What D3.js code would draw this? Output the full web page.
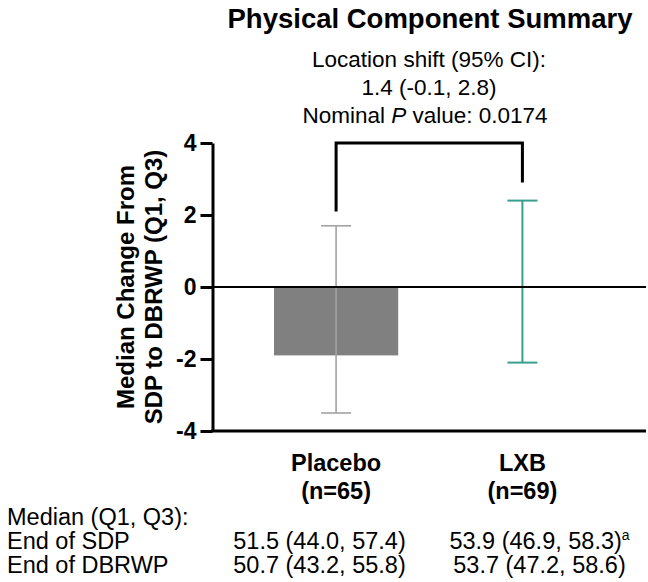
<!DOCTYPE html>
<html>
<head>
<meta charset="utf-8">
<script src="https://cdn.jsdelivr.net/npm/d3@7"></script>
<style>
  html, body { margin: 0; padding: 0; background: #fff; }
  svg { display: block; font-family: "Liberation Sans", Arial, Helvetica, sans-serif; }
</style>
</head>
<body>
<svg id="chart" width="648" height="582"></svg>
<script>
// Groups and their sample sizes
const groups = ["Placebo", "LXB"];
const groupN = ["(n=65)", "(n=69)"];

// Median change from SDP to DBRWP, with Q1 and Q3
const medians = [-1.9, 0];
const q1 = [-3.5, -2.1];
const q3 = [1.7, 2.4];

// Y axis ticks
const yTicks = [4, 2, 0, -2, -4];

// Comparison bracket: top level and the two leg ends
const bracketTop = 4;
const bracketEnds = [2.1, 2.9];

// Header text
const title = "Physical Component Summary";
const statLines = ["Location shift (95% CI):", "1.4 (-0.1, 2.8)"];
const pValue = "0.0174";

// Table below the chart
const tableHeader = "Median (Q1, Q3):";
const rowLabels = ["End of SDP", "End of DBRWP"];
const placeboCells = ["51.5 (44.0, 57.4)", "50.7 (43.2, 55.8)"];
const lxbCells = ["53.9 (46.9, 58.3)", "53.7 (47.2, 58.6)"];
const lxbNotes = ["a", ""];

const barColors = ["#808080", "#ffffff"];
const whiskerColors = ["#a3a3a3", "#3a9e8e"];

const svg = d3.select("#chart");

const plotLeft = 212.5, plotRight = 646, plotTop = 143, plotBottom = 431;

const x = d3.scaleBand()
  .domain(groups)
  .range([plotLeft, plotRight])
  .paddingInner(1 / 3)
  .paddingOuter(0.33);

const y = d3.scaleLinear()
  .domain([-4, 4])
  .range([plotBottom, plotTop]);

const cx = g => x(g) + x.bandwidth() / 2;

// Bars
svg.append("g")
  .selectAll("rect")
  .data(groups)
  .join("rect")
  .attr("x", d => x(d))
  .attr("width", x.bandwidth())
  .attr("y", (d, i) => y(Math.max(0, medians[i])))
  .attr("height", (d, i) => Math.abs(y(medians[i]) - y(0)))
  .attr("fill", (d, i) => barColors[i]);

// Whiskers (Q1 to Q3) with caps
const capHalf = 15;
const whiskers = svg.append("g");
groups.forEach((g, i) => {
  const c = cx(g);
  const w = whiskers.append("g")
    .attr("stroke", whiskerColors[i])
    .attr("stroke-width", i === 0 ? 1.6 : 2);
  w.append("line").attr("x1", c).attr("x2", c).attr("y1", y(q1[i])).attr("y2", y(q3[i]));
  [q1[i], q3[i]].forEach(v => {
    w.append("line").attr("x1", c - capHalf).attr("x2", c + capHalf).attr("y1", y(v)).attr("y2", y(v));
  });
});

// Zero reference line
svg.append("line")
  .attr("x1", plotLeft).attr("x2", plotRight)
  .attr("y1", y(0)).attr("y2", y(0))
  .attr("stroke", "#000").attr("stroke-width", 2.2);

// Y axis
const yAxis = svg.append("g")
  .attr("transform", `translate(${plotLeft},0)`)
  .call(d3.axisLeft(y).tickValues(yTicks).tickSize(12).tickSizeOuter(0).tickPadding(4).tickFormat(d => String(d)));
yAxis.select(".domain").attr("stroke", "#000").attr("stroke-width", 3);
yAxis.selectAll(".tick line").attr("stroke", "#000").attr("stroke-width", 3);
yAxis.selectAll(".tick text")
  .attr("fill", "#000")
  .style("font-size", "23px")
  .style("font-weight", "bold")
  .style("font-family", "Liberation Sans, Arial, sans-serif");

// X axis line at the bottom
const xAxis = svg.append("g")
  .attr("transform", `translate(0,${plotBottom})`)
  .call(d3.axisBottom(x).tickSize(0).tickFormat(""));
xAxis.select(".domain").attr("stroke", "#000").attr("stroke-width", 3)
  .attr("d", `M${plotLeft - 1.5},0H${plotRight}`);

// Bracket comparing the two groups
const bx0 = cx(groups[0]), bx1 = cx(groups[1]);
svg.append("path")
  .attr("d", `M${bx0},${y(bracketEnds[0])}V${y(bracketTop)}H${bx1}V${y(bracketEnds[1])}`)
  .attr("fill", "none")
  .attr("stroke", "#000")
  .attr("stroke-width", 3);

// Y axis title (two lines)
const yTitle = svg.append("text")
  .attr("transform", `translate(0,${y(0)}) rotate(-90)`)
  .attr("text-anchor", "middle")
  .style("font-size", "24px")
  .style("font-weight", "bold");
yTitle.append("tspan").attr("x", 0).attr("y", 134).text("Median Change From");
yTitle.append("tspan").attr("x", 0).attr("y", 162).text("SDP to DBRWP (Q1, Q3)");

// Header
const hx = 429;
svg.append("text")
  .attr("x", hx + 1).attr("y", 28)
  .attr("text-anchor", "middle")
  .style("font-size", "27.5px")
  .style("font-weight", "bold")
  .text(title);
statLines.forEach((t, i) => {
  svg.append("text")
    .attr("x", hx).attr("y", 67 + i * 28)
    .attr("text-anchor", "middle")
    .style("font-size", "22.5px")
    .text(t);
});
const pLine = svg.append("text")
  .attr("x", hx - 4).attr("y", 123)
  .attr("text-anchor", "middle")
  .style("font-size", "22.5px");
pLine.append("tspan").text("Nominal ");
pLine.append("tspan").style("font-style", "italic").text("P");
pLine.append("tspan").text(" value: " + pValue);

// Group labels under the axis
groups.forEach((g, i) => {
  const t = svg.append("text")
    .attr("x", cx(g))
    .attr("text-anchor", "middle")
    .style("font-size", "23.5px")
    .style("font-weight", "bold");
  t.append("tspan").attr("x", cx(g)).attr("y", 471).text(g);
  t.append("tspan").attr("x", cx(g)).attr("y", 499).text(groupN[i]);
});

// Summary table
const tableSize = "23.5px";
svg.append("text").attr("x", 7).attr("y", 525).style("font-size", tableSize).text(tableHeader);
rowLabels.forEach((r, i) => {
  const ry = 549 + i * 24;
  svg.append("text").attr("x", 7).attr("y", ry).style("font-size", tableSize).text(r);
  svg.append("text").attr("x", 319.5).attr("y", ry).attr("text-anchor", "middle")
    .style("font-size", tableSize).text(placeboCells[i]);
  const t = svg.append("text").attr("x", 539.5).attr("y", ry).attr("text-anchor", "middle")
    .style("font-size", tableSize);
  t.append("tspan").text(lxbCells[i]);
  if (lxbNotes[i]) {
    t.append("tspan").attr("dy", -9).style("font-size", "14px").text(lxbNotes[i]);
  }
});
</script>
</body>
</html>
